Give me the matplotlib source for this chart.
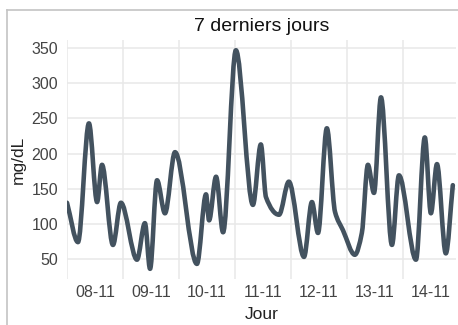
import numpy as np
import matplotlib
matplotlib.use("Agg")
import matplotlib.pyplot as plt
from matplotlib.path import Path
from matplotlib.patches import PathPatch
from matplotlib.lines import Line2D

plt.rcParams["font.family"] = ["Liberation Sans", "DejaVu Sans"]

# glucose readings, hours counted from 08-11 00:00
hours = [0, 4.7, 9.4, 12.9, 15, 19.7, 23.1, 30, 33.4, 35.6, 38.6, 42, 46.3,
         55.7, 59.6, 60.9, 63.9, 66.9, 72.4, 79.7, 83.1, 85.3, 90.9, 95.1,
         101.6, 105, 107.6, 111.4, 114.9, 118.3, 123.4, 126.4, 129, 131.6,
         134.6, 139.3, 142.3, 149.6, 153.4, 156, 158.6, 162.4, 165.4]
glucose = [130, 74, 243, 131, 184, 70, 130, 49, 101, 36, 162, 115, 202,
           43, 142, 105, 167, 88, 347, 127, 213, 138, 113, 160,
           53, 131, 87, 236, 117, 91, 56, 87, 184, 144,
           280, 70, 169, 49, 223, 115, 185, 58, 155]
day_labels = ["08-11", "09-11", "10-11", "11-11", "12-11", "13-11", "14-11"]
y_ticks = [50, 100, 150, 200, 250, 300, 350]


def monotone_path(x, y):
    # monotone cubic (Fritsch-Carlson) as bezier segments
    x = np.asarray(x, float)
    y = np.asarray(y, float)
    h = np.diff(x)
    d = np.diff(y) / h
    m = np.zeros_like(y)
    m[0], m[-1] = d[0], d[-1]
    for i in range(1, len(y) - 1):
        if d[i - 1] * d[i] <= 0:
            m[i] = 0
        else:
            w1 = 2 * h[i] + h[i - 1]
            w2 = h[i] + 2 * h[i - 1]
            m[i] = (w1 + w2) / (w1 / d[i - 1] + w2 / d[i])
    verts = [(x[0], y[0])]
    codes = [Path.MOVETO]
    for i in range(len(h)):
        verts += [(x[i] + h[i] / 3, y[i] + m[i] * h[i] / 3),
                  (x[i + 1] - h[i] / 3, y[i + 1] - m[i + 1] * h[i] / 3),
                  (x[i + 1], y[i + 1])]
        codes += [Path.CURVE4] * 3
    return Path(verts, codes)


fig = plt.figure(figsize=(4.58, 3.25), dpi=100)
ax = fig.add_axes([0.1463, 0.1415, 0.849, 0.735])

ax.add_patch(PathPatch(monotone_path(hours, glucose), facecolor="none",
                       edgecolor="#43525f", lw=3.3, capstyle="round",
                       joinstyle="round", zorder=3))

ax.set_xlim(0, 166.7)
ax.set_ylim(21.5, 361.4)

ax.set_xticks([12 + 24 * i for i in range(len(day_labels))], labels=day_labels)
ax.set_xticks([24 * i for i in range(len(day_labels))], minor=True)
ax.set_yticks(y_ticks)
ax.grid(which="minor", axis="x", color="#e8e8e8", lw=1.1)
ax.grid(which="major", axis="y", color="#e8e8e8", lw=1.1)
ax.set_axisbelow(True)
ax.tick_params(which="both", length=0, labelsize=11.5, labelcolor="#444444")
ax.tick_params(axis="y", pad=6.5)
ax.tick_params(axis="x", pad=4)
for s in ax.spines.values():
    s.set_visible(False)

ax.set_title("7 derniers jours", fontsize=14, color="#111111", pad=6.5)
ax.set_xlabel("Jour", fontsize=12.5, color="#222222", labelpad=5.5)
ax.set_ylabel("mg/dL", fontsize=12.5, color="#222222", labelpad=4)

# card frame around the chart
fig.add_artist(Line2D([7 / 458, 7 / 458], [0, 1 - 10 / 325], color="#c4c4c4", lw=1.2))
fig.add_artist(Line2D([7 / 458, 1], [1 - 10 / 325, 1 - 10 / 325], color="#c4c4c4", lw=1.2))

fig.savefig("out.png", dpi=100)
